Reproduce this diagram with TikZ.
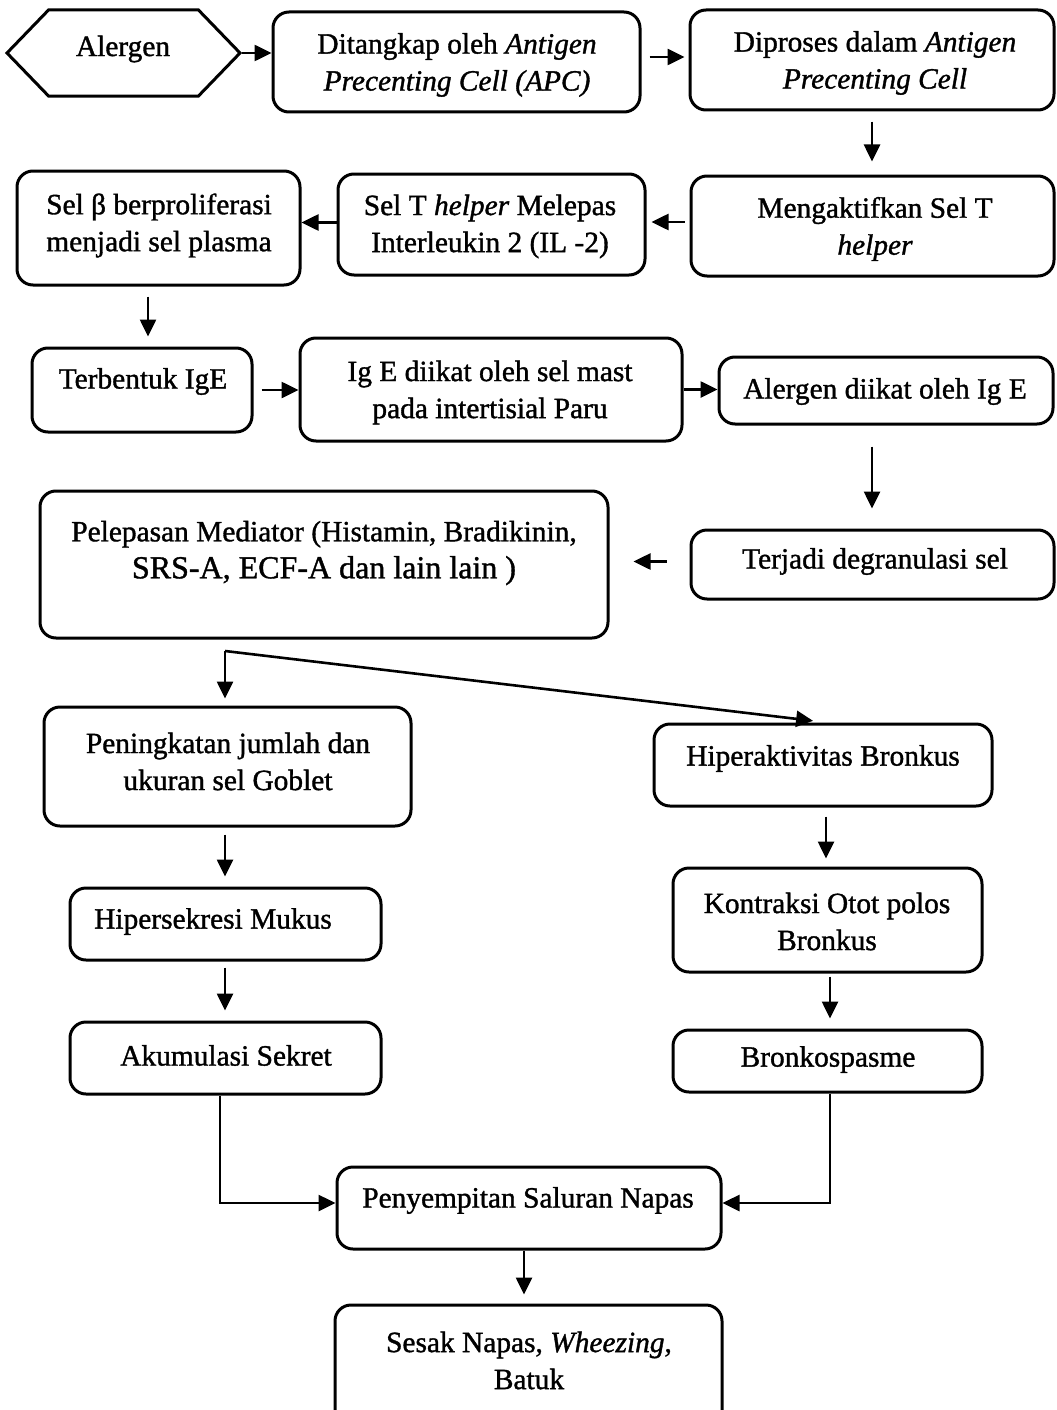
\documentclass[tikz,border=0pt]{standalone}
\usepackage{fontspec}
\setmainfont{Liberation Serif}[FakeBold=1.2]
\usetikzlibrary{arrows.meta,fit,shapes.symbols}

\tikzset{
  box/.style={draw, line width=1.5bp, rounded corners=8bp, inner sep=0pt},
  txt/.style={align=center, inner sep=0pt,
    font=\fontsize{14.7bp}{18.5bp}\selectfont},
  arr/.style={draw, line width=1.3bp, -{Triangle[length=8.5bp,width=8bp]}},
}

\begin{document}
\begin{tikzpicture}[x=0.5bp,y=-0.5bp]
\useasboundingbox (0,0) rectangle (1056,1410);
\clip (0,0) rectangle (1056,1410);

% start symbol
\node[draw, line width=1.5bp, signal, signal to=west and east,
      signal pointer angle=92, minimum width=116.5bp, minimum height=43bp,
      inner sep=0pt] (alg) at (123.5,53) {};
\node[txt] (algt) at (123,49) {Alergen};

% boxes: frame from corner to corner, text placed on its own
\node[box, fit={(273,12)(640,112)}] (dit) {};
\node[txt] (ditt) at (457,65) {Ditangkap oleh \textit{Antigen}\\\textit{Precenting Cell (APC)}};

\node[box, fit={(690,10)(1054,110)}] (dip) {};
\node[txt] (dipt) at (875,63) {Diproses dalam \textit{Antigen}\\\textit{Precenting Cell}};

\node[box, fit={(691,176)(1054,276)}] (men) {};
\node[txt] (ment) at (875,229) {Mengaktifkan Sel T\\\textit{helper}};

\node[box, fit={(338,174)(645,275)}] (selt) {};
\node[txt] (seltt) at (490,226.5) {Sel T \textit{helper} Melepas\\Interleukin 2 (IL -2)};

\node[box, fit={(17,171)(300,285)}] (selb) {};
\node[txt] (selbt) at (159,225.5) {Sel β berproliferasi\\menjadi sel plasma};

\node[box, fit={(32,348)(252,432)}] (ter) {};
\node[txt] (tert) at (143,381.5) {Terbentuk IgE};

\node[box, fit={(300,338)(682,441)}] (ige) {};
\node[txt] (iget) at (490,392.5) {Ig E diikat oleh sel mast\\pada intertisial Paru};

\node[box, fit={(719,357)(1053,424)}] (ald) {};
\node[txt] (aldt) at (885,391.5) {Alergen diikat oleh Ig E};

\node[box, fit={(691,530)(1054,599)}] (deg) {};
\node[txt] (degt) at (875,561.5) {Terjadi degranulasi sel};

\node[box, fit={(40,491)(608,638)}] (pel) {};
\node[txt] (pelt) at (324,553) {Pelepasan Mediator (Histamin, Bradikinin,\\
  \fontsize{16bp}{21bp}\selectfont SRS-A, ECF-A dan lain lain )};

\node[box, fit={(44,707)(411,826)}] (gob) {};
\node[txt] (gobt) at (228,761.5) {Peningkatan jumlah dan\\ukuran sel Goblet};

\node[box, fit={(654,724)(992,806)}] (hip) {};
\node[txt] (hipt) at (823,758.5) {Hiperaktivitas Bronkus};

\node[box, fit={(673,868)(982,972)}] (kon) {};
\node[txt] (kont) at (827,921.5) {Kontraksi Otot polos\\Bronkus};

\node[box, fit={(673,1030)(982,1092)}] (bro) {};
\node[txt] (brot) at (828,1059.5) {Bronkospasme};

\node[box, fit={(70,888)(381,960)}] (muk) {};
\node[txt] (mukt) at (213,921.5) {Hipersekresi Mukus};

\node[box, fit={(70,1022)(381,1094)}] (aku) {};
\node[txt] (akut) at (226,1055.5) {Akumulasi Sekret};

\node[box, fit={(337,1167)(721,1249)}] (pny) {};
\node[txt] (pnyt) at (528,1200.5) {Penyempitan Saluran Napas};

\node[box, fit={(335,1305)(722,1430)}] (ses) {};
\node[txt] (sest) at (529,1360.5) {Sesak Napas, \textit{Wheezing},\\Batuk};

% connectors
\draw[arr] (alg.east) -- (alg.east -| dit.west);
\draw[arr, shorten <=4bp, shorten >=2bp] ([yshift=2.5bp]dit.east) -- ([yshift=2.5bp]dit.east -| dip.west);
\draw[arr, shorten <=5bp, shorten >=6.5bp] (dip.south -| 872,0) -- (men.north -| 872,0);
\draw[arr, shorten <=2.5bp, shorten >=2.5bp] ([yshift=2bp]men.west) -- ([yshift=2bp]men.west -| selt.east);
\draw[arr] ([yshift=1bp]selt.west) -- ([yshift=1bp]selt.west -| selb.east);
\draw[arr, shorten <=5bp, shorten >=5bp] (selb.south -| 148,0) -- (ter.north -| 148,0);
\draw[arr, shorten <=4bp] (ter.east) -- (ter.east -| ige.west);
\draw[arr] (ige.east) -- (ige.east -| ald.west);
\draw[arr, shorten <=10.5bp, shorten >=10bp] (ald.south -| 872,0) -- (deg.north -| 872,0);
\draw[arr, shorten <=11.5bp, shorten >=12bp] ([yshift=1.5bp]deg.west) -- ([yshift=1.5bp]deg.west -| pel.east);

\coordinate (br) at (225,651);
\draw[arr, shorten >=3.5bp] (br) -- (br |- gob.north);
\draw[arr, shorten >=7bp] (br) -- (hip.north -| 827,0);

\draw[arr, shorten <=3.5bp, shorten >=5bp] (gob.south -| 225,0) -- (muk.north -| 225,0);
\draw[arr, shorten <=3bp, shorten >=5bp] (muk.south -| 225,0) -- (aku.north -| 225,0);
\draw[arr, shorten <=4.5bp, shorten >=4bp] (hip.south -| 826,0) -- (kon.north -| 826,0);
\draw[arr, shorten <=1.5bp, shorten >=5bp] (kon.south -| 830,0) -- (bro.north -| 830,0);

\draw[arr] (aku.south -| 220,0) |- ([yshift=2.5bp]pny.west);
\draw[arr] (bro.south -| 830,0) |- ([yshift=2.5bp]pny.east);
\draw[arr, shorten >=4.5bp] (pny.south -| 524,0) -- (ses.north -| 524,0);
\end{tikzpicture}
\end{document}
